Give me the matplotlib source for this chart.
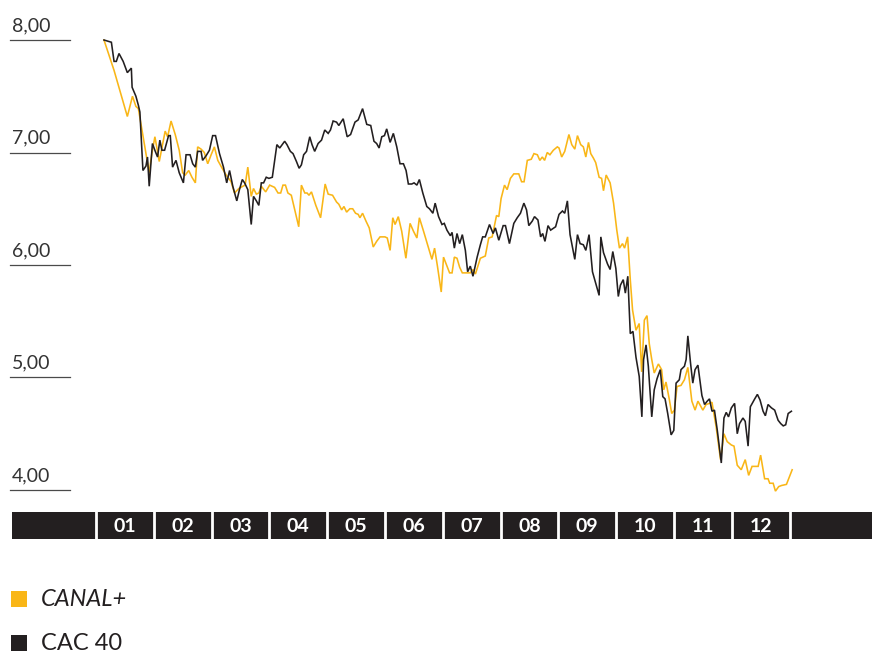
import matplotlib
matplotlib.use("Agg")
import matplotlib.pyplot as plt
import numpy as np

# ---------------- data (day of year, value) ----------------
cac_days = [4.2, 8.1, 9.5, 10.7, 12.1, 14.3, 16.5, 18.6, 19.0, 21.0, 22.3, 23.1, 24.7, 26.3, 27.1, 28.0,
            29.7, 31.2, 32.4, 33.6, 34.7, 36.1, 38.2, 39.1, 40.3, 42.1, 43.8, 46.0, 47.4, 49.5, 50.9,
            52.3, 53.5, 55.3, 56.1, 57.9, 59.7, 61.4, 62.9, 65.0, 67.1, 68.8, 70.3, 72.0, 74.1, 75.5,
            77.0, 78.2, 79.9, 81.7, 82.9, 84.4, 85.7, 87.0, 88.2, 89.6, 91.0, 92.8, 95.2, 96.7, 99.3,
            100.5, 102.3, 103.7, 105.5, 106.9, 108.1, 109.3, 110.8, 112.5, 113.7, 115.1, 116.9, 118.7,
            120.4, 122.2, 123.4, 124.8, 126.6, 127.8, 130.1, 132.2, 134.0, 136.3, 138.0, 140.3, 142.5,
            144.6, 146.3, 147.7, 149.0, 150.4, 151.8, 153.0, 154.8, 156.5, 158.3, 160.0, 161.8, 163.2,
            164.4, 166.2, 167.4, 168.9, 170.2, 172.0, 174.1, 175.5, 177.3, 178.5, 180.3, 182.1, 183.3,
            184.7, 186.5, 187.4, 188.6, 190.0, 191.4, 192.8, 194.4, 195.6, 197.0, 198.4, 200.6, 202.3,
            203.5, 204.9, 207.1, 209.0, 210.2, 212.0, 214.3, 215.5, 217.6, 219.9, 221.7, 223.4, 225.2,
            226.6, 227.8, 229.6, 230.8, 232.6, 234.0, 235.1, 236.3, 237.9, 239.3, 241.9, 243.7, 245.5,
            246.7, 248.1, 249.5, 252.0, 253.4, 254.8, 256.5, 257.8, 259.5, 261.3, 264.8, 265.7, 267.1,
            269.2, 270.6, 272.0, 273.6, 274.9, 276.0, 277.5, 278.6, 279.9, 281.2, 282.6, 284.2, 285.9,
            287.3, 288.2, 289.5, 290.7, 292.5, 293.8, 295.3, 297.0, 298.3, 299.5, 300.9, 302.7, 304.1,
            305.3, 307.0, 307.9, 309.7, 310.6, 311.5, 312.9, 314.1, 315.3, 316.8, 318.9, 320.3, 321.7,
            322.9, 324.2, 325.5, 327.0, 329.1, 330.5, 331.7, 332.9, 334.4, 336.1, 337.5, 338.7, 340.5,
            341.7, 343.2, 344.4, 346.7, 348.1, 349.5, 351.1, 352.3, 353.7, 355.5, 357.2, 359.0, 360.4,
            361.7, 363.0, 364.3, 366.0]
cac_values = [8.00, 7.98, 7.81, 7.81, 7.88, 7.81, 7.71, 7.75, 7.58, 7.50, 7.42, 7.36, 6.84, 6.88, 6.96, 6.70,
              7.08, 7.01, 6.96, 7.11, 7.02, 7.02, 7.15, 7.15, 6.87, 6.93, 6.82, 6.73, 6.98, 6.98, 6.90,
              6.87, 7.01, 7.01, 6.93, 6.97, 7.02, 7.15, 7.15, 6.99, 6.87, 6.73, 6.84, 6.70, 6.57, 6.67,
              6.76, 6.73, 6.67, 6.36, 6.61, 6.57, 6.53, 6.73, 6.73, 6.78, 6.77, 6.78, 7.07, 7.04, 7.10,
              7.07, 7.01, 6.99, 6.92, 6.86, 6.89, 6.98, 7.01, 7.14, 7.07, 7.01, 7.08, 7.11,
              7.20, 7.17, 7.20, 7.28, 7.27, 7.24, 7.30, 7.14, 7.16, 7.27, 7.29, 7.39, 7.25,
              7.24, 7.10, 7.08, 7.04, 7.14, 7.15, 7.21, 7.09, 7.17, 7.05, 6.90, 6.90, 6.84,
              6.72, 6.72, 6.73, 6.71, 6.76, 6.64, 6.52, 6.50, 6.46, 6.55, 6.43, 6.36, 6.37,
              6.31, 6.26, 6.29, 6.15, 6.28, 6.19, 6.27, 6.13, 5.94, 5.99, 5.90, 6.07, 6.18,
              6.25, 6.25, 6.36, 6.28, 6.33, 6.22, 6.35, 6.35, 6.19, 6.37, 6.42, 6.46, 6.55,
              6.49, 6.35, 6.39, 6.43, 6.40, 6.25, 6.28, 6.21, 6.35, 6.31, 6.34, 6.45, 6.48,
              6.46, 6.57, 6.27, 6.05, 6.27, 6.19, 6.18, 6.13, 6.27, 5.94, 5.73, 6.25, 6.11,
              6.01, 5.96, 6.12, 5.97, 5.72, 5.82, 5.87, 5.75, 5.90, 5.39, 5.41, 5.18, 5.01,
              4.65, 5.16, 5.29, 5.10, 4.65, 4.89, 4.99, 5.07, 4.83, 4.81, 4.68, 4.49, 4.53,
              4.95, 4.98, 5.07, 5.10, 5.16, 5.37, 5.13, 4.95, 5.07, 5.11, 4.84, 4.76, 4.79,
              4.81, 4.70, 4.71, 4.53, 4.24, 4.64, 4.69, 4.65, 4.73, 4.77, 4.50, 4.59, 4.64,
              4.61, 4.39, 4.74, 4.81, 4.85, 4.80, 4.70, 4.66, 4.76, 4.73, 4.71, 4.62, 4.59,
              4.57, 4.58, 4.68, 4.70]

canal_days = [4.2, 9.5, 16.5, 19.2, 21.0, 22.3, 24.5, 26.3, 28.0, 29.4, 31.0, 33.3, 35.0, 36.4, 37.7,
              39.5, 41.7, 43.8, 45.6, 47.0, 48.8, 50.5, 52.3, 53.5, 55.3, 57.0, 58.8, 60.6, 62.3,
              64.1, 66.4, 68.5, 71.1, 72.9, 75.2, 77.3, 78.5, 79.9, 81.7, 82.9, 84.4, 85.7, 87.0,
              89.3, 91.4, 94.0, 95.8, 97.2, 98.4, 99.7, 101.0, 102.8, 104.6, 106.7, 108.1, 109.9,
              111.1, 112.1, 113.4, 115.7, 118.2, 120.6, 122.2, 124.5, 126.6, 127.8, 129.3, 130.5,
              131.9, 133.6, 135.1, 136.6, 138.0, 138.9, 140.3, 142.1, 143.8, 145.9, 147.7, 149.5,
              152.1, 153.3, 154.8, 156.2, 157.4, 159.1, 160.9, 163.1, 165.3, 167.1, 168.9, 170.2,
              172.4, 174.5, 176.8, 178.2, 179.7, 181.7, 182.9, 184.7, 186.1, 187.4, 188.6, 190.0,
              191.4, 192.8, 195.3, 197.0, 198.4, 199.7, 202.3, 204.9, 206.7, 208.5, 210.8, 212.0,
              213.2, 215.0, 216.4, 218.1, 219.9, 222.5, 224.0, 225.3, 227.0, 229.1, 230.5, 232.3,
              233.6, 234.9, 236.1, 237.5, 238.9, 240.7, 242.8, 243.7, 245.1, 246.7, 248.9, 250.4,
              252.0, 253.4, 255.1, 256.5, 257.8, 259.2, 260.4, 261.8, 263.0, 264.8, 266.1, 267.1,
              268.5, 270.6, 272.4, 274.1, 275.5, 277.1, 278.2, 279.8, 281.2, 282.4, 284.2, 285.9,
              287.2, 288.6, 290.0, 291.2, 292.5, 293.8, 296.0, 297.7, 298.8, 300.0, 301.8, 303.0,
              304.4, 305.8, 307.9, 309.7, 311.5, 313.6, 315.3, 316.8, 319.4, 321.1, 322.9, 324.2,
              326.4, 328.7, 330.5, 332.2, 334.4, 335.8, 337.5, 339.6, 341.7, 343.5, 345.3, 347.0,
              348.5, 349.8, 351.9, 353.7, 354.6, 356.4, 357.6, 359.3, 360.8, 363.4, 366.4]
canal_values = [8.00, 7.73, 7.32, 7.50, 7.41, 7.39, 7.17, 6.99, 6.82, 6.99, 7.14, 6.92, 7.07, 7.19, 7.14,
                7.28, 7.16, 7.02, 6.82, 6.80, 6.84, 6.78, 6.73, 7.05, 7.03, 7.00, 6.90, 6.98, 7.05,
                6.93, 6.86, 6.80, 6.74, 6.64, 6.68, 6.70, 6.71, 6.87, 6.61, 6.68, 6.63, 6.64, 6.70,
                6.65, 6.71, 6.69, 6.64, 6.64, 6.71, 6.71, 6.64, 6.62, 6.49, 6.34, 6.71, 6.64,
                6.64, 6.62, 6.65, 6.53, 6.42, 6.72, 6.63, 6.62, 6.56, 6.54, 6.49, 6.52,
                6.47, 6.50, 6.50, 6.46, 6.45, 6.42, 6.46, 6.39, 6.33, 6.16, 6.21, 6.25,
                6.25, 6.24, 6.13, 6.42, 6.36, 6.43, 6.30, 6.06, 6.37, 6.30, 6.24, 6.42,
                6.30, 6.18, 6.05, 6.15, 5.99, 5.76, 6.07, 5.99, 5.93, 5.93, 6.07, 6.06,
                5.98, 5.93, 5.93, 5.93, 5.96, 5.92, 6.06, 6.08, 6.24, 6.25, 6.44, 6.43,
                6.59, 6.71, 6.67, 6.77, 6.81, 6.81, 6.74, 6.74, 6.93, 6.94, 6.99, 6.98,
                6.93, 6.96, 6.93, 7.00, 6.98, 7.02, 7.05, 7.04, 6.96, 7.01, 7.16, 7.07,
                7.03, 7.15, 7.07, 7.05, 6.96, 7.09, 6.99, 6.95, 6.91, 6.78, 6.77, 6.66,
                6.80, 6.73, 6.55, 6.31, 6.15, 6.19, 6.15, 6.25, 5.87, 5.60, 5.42, 5.48,
                5.05, 5.51, 5.55, 5.30, 5.16, 5.04, 5.12, 5.07, 4.89, 4.96, 4.80, 4.68,
                4.71, 4.92, 4.93, 4.98, 5.09, 4.79, 4.71, 4.79, 4.71, 4.76, 4.77, 4.78,
                4.56, 4.27, 4.50, 4.43, 4.40, 4.39, 4.22, 4.18, 4.27, 4.13, 4.21, 4.21,
                4.21, 4.31, 4.10, 4.10, 4.06, 4.06, 3.99, 4.03, 4.04, 4.05, 4.18]

y_ticks = [4.0, 5.0, 6.0, 7.0, 8.0]
y_tick_labels = ["4,00", "5,00", "6,00", "7,00", "8,00"]
month_labels = ["01", "02", "03", "04", "05", "06", "07", "08", "09", "10", "11", "12"]
series_names = ["CANAL+", "CAC 40"]

# ---------------- style ----------------
ORANGE = "#F9B617"
DARK = "#231F20"
GREY = "#4a4a4a"
FONT = "Lato"

W, H = 872, 655
fig = plt.figure(figsize=(W / 100, H / 100), dpi=100)

# x mapping: day 0 -> px 96, day 365 -> px 789.5
ppd = 693.5 / 365.0
xlim = (-96 / ppd, (W - 96) / ppd)

# main axes: px y 0..505 ; 8.00 at px 40, 4.00 at px 490
ppu = 112.5
ax = fig.add_axes([0, (H - 505) / H, 1, 505 / H])
ax.set_xlim(*xlim)
ax.set_ylim(8 - (505 - 40) / ppu, 8 + 40 / ppu)
ax.axis("off")

ax.plot(canal_days, canal_values, color=ORANGE, lw=1.15, solid_joinstyle="miter", zorder=2)
ax.plot(cac_days, cac_values, color=DARK, lw=1.15, solid_joinstyle="miter", zorder=3)

ytr = ax.get_yaxis_transform()
for v, lab in zip(y_ticks, y_tick_labels):
    ax.plot([10 / W, 70 / W], [v, v], transform=ytr, color=GREY, lw=0.9, clip_on=False)
    ax.annotate(lab, xy=(12 / W, v), xycoords=ytr, xytext=(0, 6), textcoords="offset pixels",
                ha="left", va="bottom", fontsize=14, color="#333333", family=FONT)

# month bar: px y 512..539
bax = fig.add_axes([0, (H - 539) / H, 1, 27 / H])
bax.set_xlim(*xlim)
bax.set_ylim(0, 1)
bax.axis("off")
bax.axvspan((12 - 96) / ppd, xlim[1], color=DARK, lw=0)
bounds = np.arange(13) * 365 / 12.0
for b in bounds:
    bax.axvline(b, color="white", lw=2.0)
for i, lab in enumerate(month_labels):
    bax.text((bounds[i] + bounds[i + 1]) / 2, 0.47, lab, ha="center", va="center",
             color="white", fontsize=14, fontweight="bold", family=FONT)

# legend
lax = fig.add_axes([0, 0, 1, 1])
lax.set_xlim(0, W)
lax.set_ylim(H, 0)
lax.axis("off")
colors = [ORANGE, DARK]
ycent = [599, 643]
styles = ["italic", "normal"]
for name, c, yc, st in zip(series_names, colors, ycent, styles):
    lax.add_patch(plt.Rectangle((11, yc - 8), 16, 16, color=c, lw=0))
    lax.text(41, yc + 1, name, ha="left", va="center", fontsize=17, style=st,
             color="#231F20", family=FONT)

fig.savefig("out.png", dpi=100)
